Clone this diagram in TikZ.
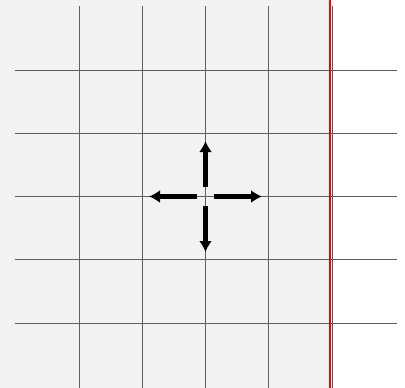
\documentclass[tikz,border=0pt]{standalone}
\usetikzlibrary{arrows.meta}
\definecolor{bggray}{HTML}{F2F2F2}
\definecolor{gridgray}{HTML}{5E5E5E}
\definecolor{redline}{HTML}{FF0000}
\begin{document}
\begin{tikzpicture}[x=1pt,y=-1pt,
  gridline/.style={draw=gridgray,line width=1.2pt},
  movearrow/.style={draw=black,line width=4.2pt,-{Latex[length=11pt,width=13pt]}}]
\useasboundingbox (0,0) rectangle (405,388);
\fill[white] (0,0) rectangle (405,388);
\fill[bggray] (0,0) rectangle (329.5,388);
% vertical grid lines
\foreach \x in {79.5,142.5,205.5,268.5,332.5}
  \draw[gridline] (\x,6) -- (\x,388);
% horizontal grid lines
\foreach \y in {70.5,133.5,196.5,259.5,323.5}
  \draw[gridline] (15,\y) -- (397,\y);
% red boundary
\draw[draw=redline,line width=2pt] (330,0) -- (330,388);
% arrows
\coordinate (uS) at (205.5,187);
\coordinate (uE) at (205.5,141);
\coordinate (dS) at (205.5,206);
\coordinate (dE) at (205.5,252);
\coordinate (lS) at (197,196.5);
\coordinate (lE) at (149,196.5);
\coordinate (rS) at (214,196.5);
\coordinate (rE) at (262,196.5);
\draw[movearrow] (uS) -- (uE);
\draw[movearrow] (dS) -- (dE);
\draw[movearrow] (lS) -- (lE);
\draw[movearrow] (rS) -- (rE);
\end{tikzpicture}
\end{document}
